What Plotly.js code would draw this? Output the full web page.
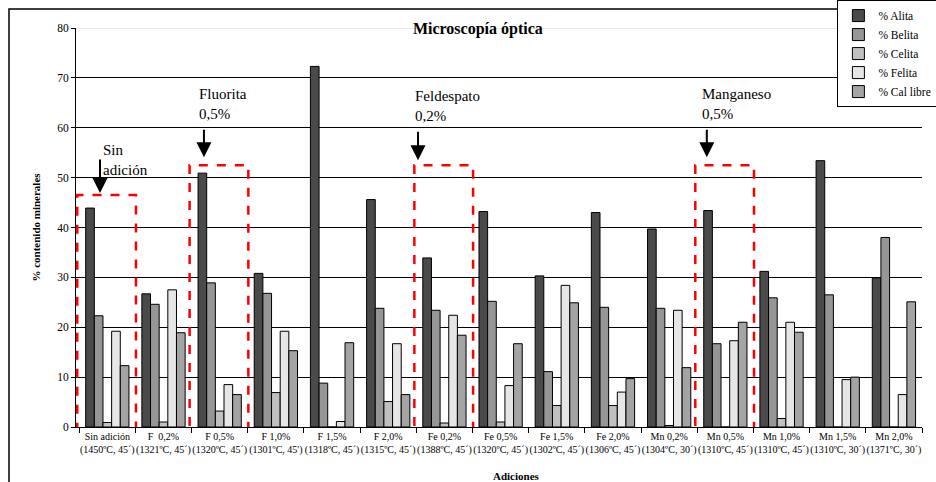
<!DOCTYPE html>
<html>
<head>
<meta charset="utf-8">
<script src="https://cdn.plot.ly/plotly-3.0.1.min.js"></script>
<style>
  html, body { margin: 0; padding: 0; background: #fff; }
  #chart { width: 936px; height: 482px; }
</style>
</head>
<body>
<div id="chart"></div>
<script>
// Categories (addition + clinkering conditions)
const categories = [
  'Sin adición<br>(1450ºC, 45´)',
  'F  0,2%<br>(1321ºC, 45´)',
  'F 0,5%<br>(1320ºC, 45´)',
  'F 1,0%<br>(1301ºC, 45\')',
  'F 1,5%<br>(1318ºC, 45´)',
  'F 2,0%<br>(1315ºC, 45´)',
  'Fe 0,2%<br>(1388ºC, 45´)',
  'Fe 0,5%<br>(1320ºC, 45´)',
  'Fe 1,5%<br>(1302ºC, 45´)',
  'Fe 2,0%<br>(1306ºC, 45´)',
  'Mn 0,2%<br>(1304ºC, 30´)',
  'Mn 0,5%<br>(1310ºC, 45´)',
  'Mn 1,0%<br>(1310ºC, 45´)',
  'Mn 1,5%<br>(1310ºC, 30´)',
  'Mn 2,0%<br>(1371ºC, 30´)'
];

const alita    = [43.9, 26.7, 50.9, 30.8, 72.3, 45.6, 33.9, 43.2, 30.3, 43.0, 39.7, 43.4, 31.2, 53.4, 29.9];
const belita   = [22.3, 24.6, 28.9, 26.8,  8.8, 23.8, 23.4, 25.2, 11.1, 24.0, 23.8, 16.7, 25.9, 26.5, 38.0];
const celita   = [ 0.9,  1.0,  3.2,  6.9,  0.0,  5.1,  0.8,  1.0,  4.3,  4.3,  0.3,  0.0,  1.7,  0.0,  0.0];
const felita   = [19.2, 27.5,  8.5, 19.2,  1.1, 16.7, 22.4,  8.3, 28.4,  7.0, 23.4, 17.3, 21.0,  9.5,  6.5];
const calLibre = [12.3, 18.9,  6.5, 15.3, 16.9,  6.5, 18.4, 16.7, 24.9,  9.7, 11.9, 21.0, 19.0, 10.0, 25.1];

const seriesNames = ['% Alita', '% Belita', '% Celita', '% Felita', '% Cal libre'];
const seriesData = [alita, belita, celita, felita, calLibre];
const seriesColors = ['#4a4a4a', '#969696', '#c0c0c0', '#e6e6e6', '#a4a4a4'];

// Highlighted groups: category index, box top, label, label position, arrow position
const highlights = [
  { idx: 0,  top: 46.5, label: 'Sin<br>adición',    textX: -0.12, textY: 57.5, arrowX: -0.13, tip: 46.9, tail: 35 },
  { idx: 2,  top: 52.5, label: 'Fluorita<br>0,5%',  textX: 1.60,  textY: 68.8, arrowX: 1.72,  tip: 54.1, tail: 29 },
  { idx: 6,  top: 52.5, label: 'Feldespato<br>0,2%', textX: 5.44, textY: 68.4, arrowX: 5.53,  tip: 53.5, tail: 30 },
  { idx: 11, top: 52.5, label: 'Manganeso<br>0,5%', textX: 10.54, textY: 68.8, arrowX: 10.67, tip: 54.1, tail: 29 }
];

const serif = 'Liberation Serif, Times New Roman, DejaVu Serif, serif';

const traces = seriesNames.map((name, i) => ({
  type: 'bar',
  name: name,
  x: categories,
  y: seriesData[i],
  marker: { color: seriesColors[i], line: { color: '#000', width: 1 } },
  hoverinfo: 'y+name'
}));

const shapes = [];
const annotations = [];

highlights.forEach(h => {
  shapes.push({
    type: 'rect', xref: 'x', yref: 'y',
    x0: h.idx - 0.535, x1: h.idx + 0.51, y0: -7, y1: h.top,
    line: { color: '#ff0000', width: 2.5, dash: 'dash' },
    fillcolor: 'rgba(0,0,0,0)', layer: 'above'
  });
  annotations.push({
    xref: 'x', yref: 'y', x: h.textX, y: h.textY,
    xanchor: 'left', yanchor: 'top', align: 'left',
    text: h.label, showarrow: false,
    font: { family: serif, size: 15, color: '#000' }
  });
  annotations.push({
    xref: 'x', yref: 'y', x: h.arrowX, y: h.tip,
    text: '', showarrow: true, ax: 0, ay: -h.tail,
    arrowhead: 2, arrowsize: 1.5, arrowwidth: 2, arrowcolor: '#000'
  });
});

// light top line of the plot area (80)
shapes.push({
  type: 'line', xref: 'paper', yref: 'y', x0: 0, x1: 1, y0: 80, y1: 80,
  line: { color: '#d0d0d0', width: 1 }, layer: 'below'
});
// outer chart frame
shapes.push({
  type: 'rect', xref: 'paper', yref: 'paper',
  x0: -0.0792, x1: 1.2, y0: -0.3, y1: 1.0476,
  line: { color: '#000', width: 1.5 }, fillcolor: 'rgba(0,0,0,0)'
});

// x axis title placed as in the reference
annotations.push({
  xref: 'paper', yref: 'paper', x: 0.521, y: -0.123,
  xanchor: 'center', yanchor: 'middle', showarrow: false,
  text: '<b>Adiciones</b>', font: { family: serif, size: 11, color: '#000' }
});

const layout = {
  width: 936,
  height: 482,
  paper_bgcolor: '#fff',
  plot_bgcolor: '#fff',
  font: { family: serif, size: 11, color: '#000' },
  margin: { l: 76, r: 14, t: 28, b: 55, autoexpand: false },
  barmode: 'group',
  bargap: 0.23,
  bargroupgap: 0,
  title: {
    text: '<b>Microscopía óptica</b>',
    font: { family: serif, size: 16, color: '#000' },
    xref: 'paper', x: 0.475, xanchor: 'center',
    yref: 'container', y: 0.942, yanchor: 'middle'
  },
  xaxis: {
    type: 'category',
    showline: true, linecolor: '#000', linewidth: 1,
    ticks: 'outside', tickson: 'boundaries', ticklen: 5, tickcolor: '#000',
    tickfont: { family: serif, size: 10, color: '#000' },
    tickangle: 0,
    showgrid: false, zeroline: false
  },
  yaxis: {
    range: [0, 80],
    dtick: 10,
    showline: true, linecolor: '#000', linewidth: 1,
    ticks: 'outside', ticklen: 4, tickcolor: '#000',
    showgrid: true, gridcolor: '#000', gridwidth: 1,
    zeroline: false,
    tickfont: { family: serif, size: 11.5, color: '#000' },
    title: {
      text: '<b>% contenido minerales</b>',
      font: { family: serif, size: 11, color: '#000' },
      standoff: 14
    }
  },
  legend: {
    x: 0.9, xanchor: 'left', y: 1.07, yanchor: 'top',
    bgcolor: '#fff', bordercolor: '#000', borderwidth: 1,
    font: { family: serif, size: 11.5, color: '#000' },
    itemwidth: 30,
    tracegroupgap: 0
  },
  showlegend: true,
  shapes: shapes,
  annotations: annotations
};

Plotly.newPlot('chart', traces, layout, { displayModeBar: false, staticPlot: true });
</script>
</body>
</html>
